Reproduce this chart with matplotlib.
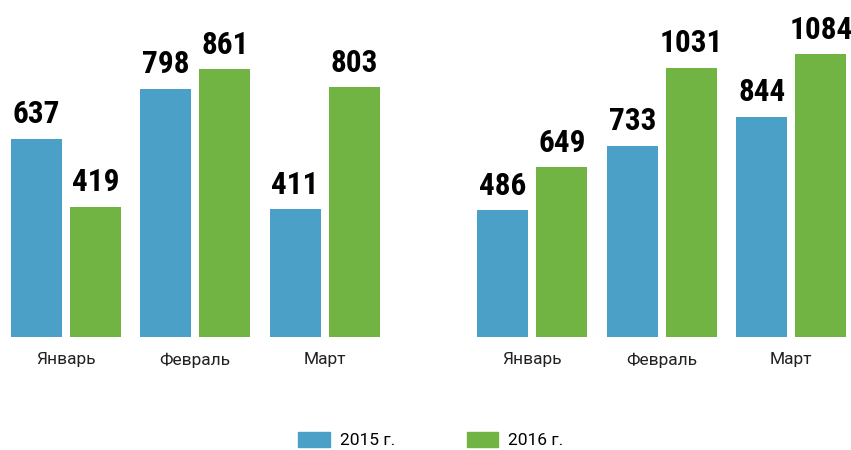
import matplotlib
matplotlib.use('Agg')
import matplotlib.pyplot as plt
from matplotlib.patches import Patch
import numpy as np

# data
months = ['Январь', 'Февраль', 'Март']
left_2015 = [637, 798, 411]
left_2016 = [419, 861, 803]
right_2015 = [486, 733, 844]
right_2016 = [649, 1031, 1084]
series_names = ['2015 г.', '2016 г.']

BLUE = '#4BA0C8'
GREEN = '#72B443'
W, H = 851, 450

plt.rcParams['font.family'] = ['Roboto', 'DejaVu Sans']

fig = plt.figure(figsize=(W / 100, H / 100), dpi=100)
num_font = dict(family=['Roboto Condensed', 'DejaVu Sans'], weight='bold', size=22.5)


def panel(left_px, ylim_top, s1, s2):
    span = (W - left_px) / 129.5 if left_px + 390 > W else 3.0
    width_px = span * 129.5
    ax = fig.add_axes([left_px / W, 113 / H, width_px / W, 337 / H])
    x = np.arange(len(months))
    off, bw = 0.228, 0.394
    b1 = ax.bar(x - off, s1, bw, color=BLUE)
    b2 = ax.bar(x + off, s2, bw, color=GREEN)
    for bars in (b1, b2):
        for b in bars:
            ax.annotate(f'{int(b.get_height())}', (b.get_x() + b.get_width() / 2, b.get_height()),
                        xytext=(0, 11), textcoords='offset points', ha='center', va='baseline',
                        **num_font)
    ax.set_xlim(-0.5, -0.5 + span)
    ax.set_ylim(0, ylim_top)
    ax.set_xticks(x)
    ax.set_xticklabels(months, fontsize=12.5, color='#222222')
    ax.tick_params(axis='x', length=0, pad=11)
    ax.set_yticks([])
    for s in ax.spines.values():
        s.set_visible(False)
    return ax


panel(1, 337 / 0.3113, left_2015, left_2016)
panel(467.5, 337 / 0.2612, right_2015, right_2016)

handles = [Patch(color=BLUE), Patch(color=GREEN)]
fig.legend(handles, series_names, loc='center', bbox_to_anchor=(431 / W, 1 - 440 / H), ncol=2,
           frameon=False, fontsize=12.5, handlelength=1.8, handleheight=1.0, columnspacing=4.1,
           handletextpad=0.6)

fig.savefig('out.png', dpi=100)
